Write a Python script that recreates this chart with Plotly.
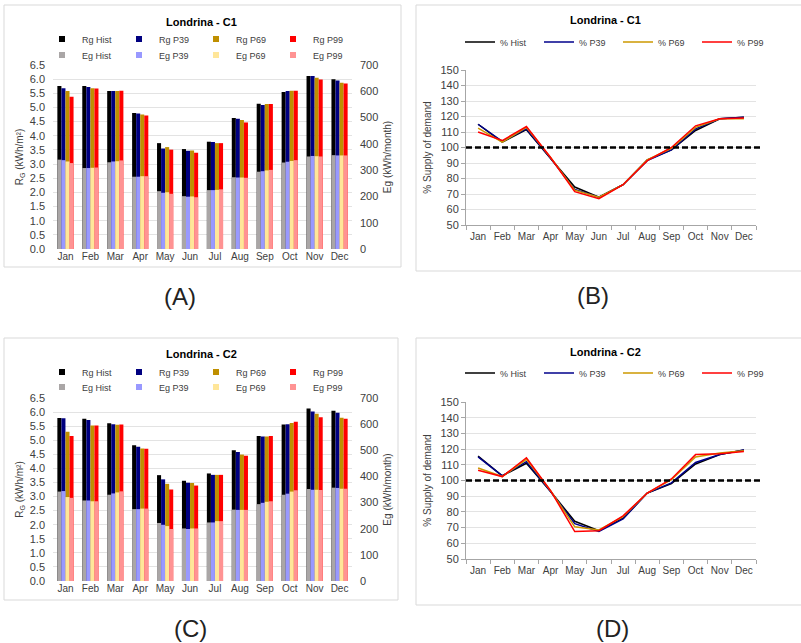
import plotly.graph_objects as go

months = ["Jan", "Feb", "Mar", "Apr", "May", "Jun", "Jul", "Aug", "Sep", "Oct", "Nov", "Dec"]

# Panel A (C1) - Rg (kWh/m2) and Eg (kWh/month)
rg_c1_hist = [5.76, 5.76, 5.58, 4.80, 3.74, 3.53, 3.79, 4.63, 5.13, 5.55, 6.11, 6.00]
rg_c1_p39 = [5.68, 5.72, 5.58, 4.79, 3.55, 3.47, 3.78, 4.60, 5.09, 5.58, 6.11, 5.95]
rg_c1_p69 = [5.58, 5.68, 5.58, 4.75, 3.60, 3.48, 3.74, 4.56, 5.12, 5.59, 6.05, 5.87]
rg_c1_p99 = [5.38, 5.67, 5.59, 4.72, 3.51, 3.40, 3.74, 4.47, 5.12, 5.59, 5.99, 5.85]
eg_c1_hist = [340, 308, 330, 275, 220, 201, 224, 273, 294, 329, 352, 357]
eg_c1_p39 = [338, 308, 333, 275, 214, 199, 224, 272, 296, 332, 354, 356]
eg_c1_p69 = [333, 309, 334, 277, 216, 200, 225, 272, 299, 335, 353, 356]
eg_c1_p99 = [327, 310, 337, 277, 210, 197, 227, 271, 301, 338, 352, 356]

# Panel C (C2)
rg_c2_hist = [5.79, 5.76, 5.60, 4.82, 3.76, 3.56, 3.82, 4.64, 5.15, 5.56, 6.13, 6.05]
rg_c2_p39 = [5.78, 5.72, 5.57, 4.77, 3.61, 3.49, 3.77, 4.58, 5.13, 5.57, 6.02, 5.98]
rg_c2_p69 = [5.30, 5.52, 5.55, 4.71, 3.45, 3.48, 3.77, 4.49, 5.13, 5.61, 5.94, 5.80]
rg_c2_p99 = [5.15, 5.52, 5.56, 4.70, 3.25, 3.39, 3.77, 4.45, 5.15, 5.66, 5.82, 5.76]
eg_c2_hist = [342, 308, 330, 275, 222, 201, 224, 273, 294, 330, 352, 357]
eg_c2_p39 = [344, 308, 335, 275, 215, 199, 224, 272, 299, 334, 349, 356]
eg_c2_p69 = [321, 305, 339, 277, 210, 201, 229, 272, 303, 342, 349, 353]
eg_c2_p99 = [318, 305, 343, 277, 199, 201, 229, 272, 305, 347, 348, 353]

# Panel B (C1) - % supply of demand
pct_c1_hist = [115, 103.5, 111.5, 93, 74.5, 68, 76, 92, 98.5, 111, 118.5, 119.5]
pct_c1_p39 = [115, 104, 112, 93, 73, 68, 76, 91.5, 98.5, 112, 118.5, 119.5]
pct_c1_p69 = [112.5, 103.5, 113, 93.5, 72.5, 68, 76, 92, 99.5, 113, 118.5, 118.5]
pct_c1_p99 = [110, 104.5, 113.5, 93.5, 71.5, 67, 76, 91.5, 100, 114, 118.5, 119]

# Panel D (C2)
pct_c2_hist = [115.5, 103, 111, 93, 74, 68, 76, 92, 98, 110.5, 116.5, 119.5]
pct_c2_p39 = [115, 103, 112, 93, 72.5, 67.5, 75.5, 92, 98.5, 111.5, 116.5, 119.5]
pct_c2_p69 = [108, 102.5, 113.5, 93.5, 70.5, 68.5, 77, 92, 100.5, 115, 117.5, 119]
pct_c2_p99 = [106.5, 102.5, 114.5, 93.5, 67.5, 68, 77.5, 92, 101, 116.5, 117, 118.5]

demand_ref = 100

rg_names = ["Rg Hist", "Rg P39", "Rg P69", "Rg P99"]
eg_names = ["Eg Hist", "Eg P39", "Eg P69", "Eg P99"]
pct_names = ["% Hist", "% P39", "% P69", "% P99"]
rg_colors = ["#000000", "#000080", "#BF8F00", "#FF0000"]
eg_colors = ["#AAA6A6", "#9999FF", "#FFE699", "#FF9393"]
line_colors = ["#000000", "#00008B", "#CC9900", "#FF0000"]

FONT = "Liberation Sans, Arial, sans-serif"
TXT = "#404040"
W, H = 801, 643


def px(x):
    return x / W


def py(y):
    return 1 - y / H


fig = go.Figure()


def add_bar_panel(rg_list, eg_list, xa, ya, ya2, leg_rg, leg_eg):
    for name, vals, col in zip(rg_names, rg_list, rg_colors):
        fig.add_trace(go.Bar(x=months, y=vals, name=name, marker=dict(color=col, line=dict(width=0)),
                             xaxis=xa, yaxis=ya, showlegend=False))
    for name, vals, col in zip(eg_names, eg_list, eg_colors):
        fig.add_trace(go.Bar(x=months, y=vals, name=name, marker=dict(color=col, line=dict(width=0)),
                             xaxis=xa, yaxis=ya2, showlegend=False))
    # legend entries
    for name, col in zip(rg_names, rg_colors):
        fig.add_trace(go.Scatter(x=[None], y=[None], mode="markers", name=name,
                                 marker=dict(symbol="square", size=6, color=col),
                                 xaxis=xa, yaxis=ya, legend=leg_rg, hoverinfo="skip"))
    for name, col in zip(eg_names, eg_colors):
        fig.add_trace(go.Scatter(x=[None], y=[None], mode="markers", name=name,
                                 marker=dict(symbol="square", size=6, color=col),
                                 xaxis=xa, yaxis=ya, legend=leg_eg, hoverinfo="skip"))


def add_line_panel(pct_list, xa, ya, leg):
    for name, vals, col in zip(pct_names, pct_list, line_colors):
        fig.add_trace(go.Scatter(x=months, y=vals, name=name, mode="lines",
                                 line=dict(color=col, width=1.5),
                                 xaxis=xa, yaxis=ya, legend=leg))


add_bar_panel([rg_c1_hist, rg_c1_p39, rg_c1_p69, rg_c1_p99],
              [eg_c1_hist, eg_c1_p39, eg_c1_p69, eg_c1_p99], "x", "y", "y2", "legend", "legend2")
add_line_panel([pct_c1_hist, pct_c1_p39, pct_c1_p69, pct_c1_p99], "x2", "y3", "legend3")
add_bar_panel([rg_c2_hist, rg_c2_p39, rg_c2_p69, rg_c2_p99],
              [eg_c2_hist, eg_c2_p39, eg_c2_p69, eg_c2_p99], "x3", "y4", "y5", "legend4", "legend5")
add_line_panel([pct_c2_hist, pct_c2_p39, pct_c2_p69, pct_c2_p99], "x4", "y6", "legend6")

bar_xdom = [px(53), px(352)]
line_xdom = [px(466), px(756)]
A_ydom = [py(249), py(65)]
B_ydom = [py(225), py(70)]
C_ydom = [py(581), py(398)]
D_ydom = [py(559), py(402)]

tick_font = dict(family=FONT, size=11, color=TXT)
month_font = dict(family=FONT, size=10, color=TXT)
title_font = dict(family=FONT, size=10, color=TXT)
grid = "#E3E3E3"
axis_gray = "#A6A6A6"


def bar_x(anchor, dom):
    return dict(domain=dom, anchor=anchor, type="category", categoryorder="array",
                categoryarray=months, showline=False, ticks="", tickfont=month_font,
                showgrid=False, zeroline=False, fixedrange=True, automargin=False, tickangle=0)


def bar_yl(anchor, dom):
    return dict(domain=dom, anchor=anchor, range=[0, 6.5], dtick=0.5, tick0=0, tickformat=".1f",
                showgrid=True, gridcolor=grid, gridwidth=1, zeroline=False, showline=False,
                tickfont=tick_font, ticklabelstandoff=7, automargin=False,
                title=dict(text="R<sub>G</sub> (kWh/m²)", font=title_font, standoff=4))


def bar_yr(anchor, overlay):
    return dict(anchor=anchor, overlaying=overlay, side="right", range=[0, 700], dtick=100, tick0=0,
                showgrid=False, zeroline=False, showline=False, tickfont=tick_font,
                ticklabelstandoff=7, automargin=False,
                title=dict(text="Eg (kWh/month)", font=title_font, standoff=6))


def line_x(anchor, dom):
    return dict(domain=dom, anchor=anchor, type="category", categoryorder="array",
                categoryarray=months, showline=True, linecolor=axis_gray, linewidth=1,
                ticks="outside", ticklen=4, tickcolor=axis_gray, tickson="boundaries",
                tickfont=month_font, showgrid=False, zeroline=False, range=[-0.5, 11.5],
                automargin=False, tickangle=0, ticklabelstandoff=2)


def line_y(anchor, dom):
    return dict(domain=dom, anchor=anchor, range=[50, 150], dtick=10, tick0=50,
                showgrid=True, gridcolor=grid, zeroline=False, showline=True, linecolor=axis_gray,
                ticks="outside", ticklen=4, tickcolor=axis_gray, tickfont=tick_font,
                automargin=False,
                title=dict(text="% Supply of demand", font=title_font, standoff=6))


leg_common = dict(orientation="h", font=dict(family=FONT, size=9, color=TXT),
                  bgcolor="rgba(0,0,0,0)", borderwidth=0, xanchor="left", yanchor="middle",
                  itemwidth=30, tracegroupgap=0, itemclick=False, itemdoubleclick=False)

fig.update_layout(
    width=W, height=H, margin=dict(l=0, r=0, t=0, b=0, autoexpand=False),
    paper_bgcolor="white", plot_bgcolor="white",
    font=dict(family=FONT, color=TXT),
    barmode="group", bargap=0.35, bargroupgap=0,
    xaxis=bar_x("y", bar_xdom),
    yaxis=bar_yl("x", A_ydom),
    yaxis2=bar_yr("x", "y"),
    xaxis2=line_x("y3", line_xdom),
    yaxis3=line_y("x2", B_ydom),
    xaxis3=bar_x("y4", bar_xdom),
    yaxis4=bar_yl("x3", C_ydom),
    yaxis5=bar_yr("x3", "y4"),
    xaxis4=line_x("y6", line_xdom),
    yaxis6=line_y("x4", D_ydom),
    legend=dict(leg_common, x=px(42), y=py(39), entrywidth=32),
    legend2=dict(leg_common, x=px(42), y=py(55), entrywidth=32),
    legend3=dict(leg_common, x=px(460), y=py(42), entrywidth=34),
    legend4=dict(leg_common, x=px(42), y=py(372), entrywidth=32),
    legend5=dict(leg_common, x=px(42), y=py(387), entrywidth=32),
    legend6=dict(leg_common, x=px(460), y=py(373), entrywidth=34),
    showlegend=True,
)

shapes = []
# panel frames
for (x0, y0, x1, y1) in [(4, 5, 401, 267), (416, 5, 810, 271), (4, 338, 398, 600), (416, 338, 810, 605)]:
    shapes.append(dict(type="rect", xref="paper", yref="paper", x0=px(x0), x1=px(x1),
                       y0=py(y1), y1=py(y0), line=dict(color="#D9D9D9", width=1),
                       fillcolor="rgba(0,0,0,0)", layer="below"))
# 100% reference lines
for xd, yr in [("x2 domain", "y3"), ("x4 domain", "y6")]:
    shapes.append(dict(type="line", xref=xd, yref=yr, x0=0, x1=1.02, y0=demand_ref, y1=demand_ref,
                       line=dict(color="black", width=2.5, dash="6px,3px")))
fig.update_layout(shapes=shapes)

ann = []
for text, x, y in [("Londrina - C1", 201, 22), ("Londrina - C1", 605, 20),
                   ("Londrina - C2", 201, 354), ("Londrina - C2", 605, 352)]:
    ann.append(dict(text="<b>" + text + "</b>", x=px(x), y=py(y), xref="paper", yref="paper",
                    showarrow=False, xanchor="center", yanchor="middle",
                    font=dict(family=FONT, size=11, color="#000000")))
for text, x, y in [("(A)", 180, 296), ("(B)", 593, 295), ("(C)", 190, 628), ("(D)", 612, 628)]:
    ann.append(dict(text=text, x=px(x), y=py(y), xref="paper", yref="paper",
                    showarrow=False, xanchor="center", yanchor="middle",
                    font=dict(family=FONT, size=24, color="#222222")))
fig.update_layout(annotations=ann)

fig.write_html("out.html", config={"displayModeBar": False},
               post_script="document.body.style.margin='0px';document.body.style.overflow='hidden';")
